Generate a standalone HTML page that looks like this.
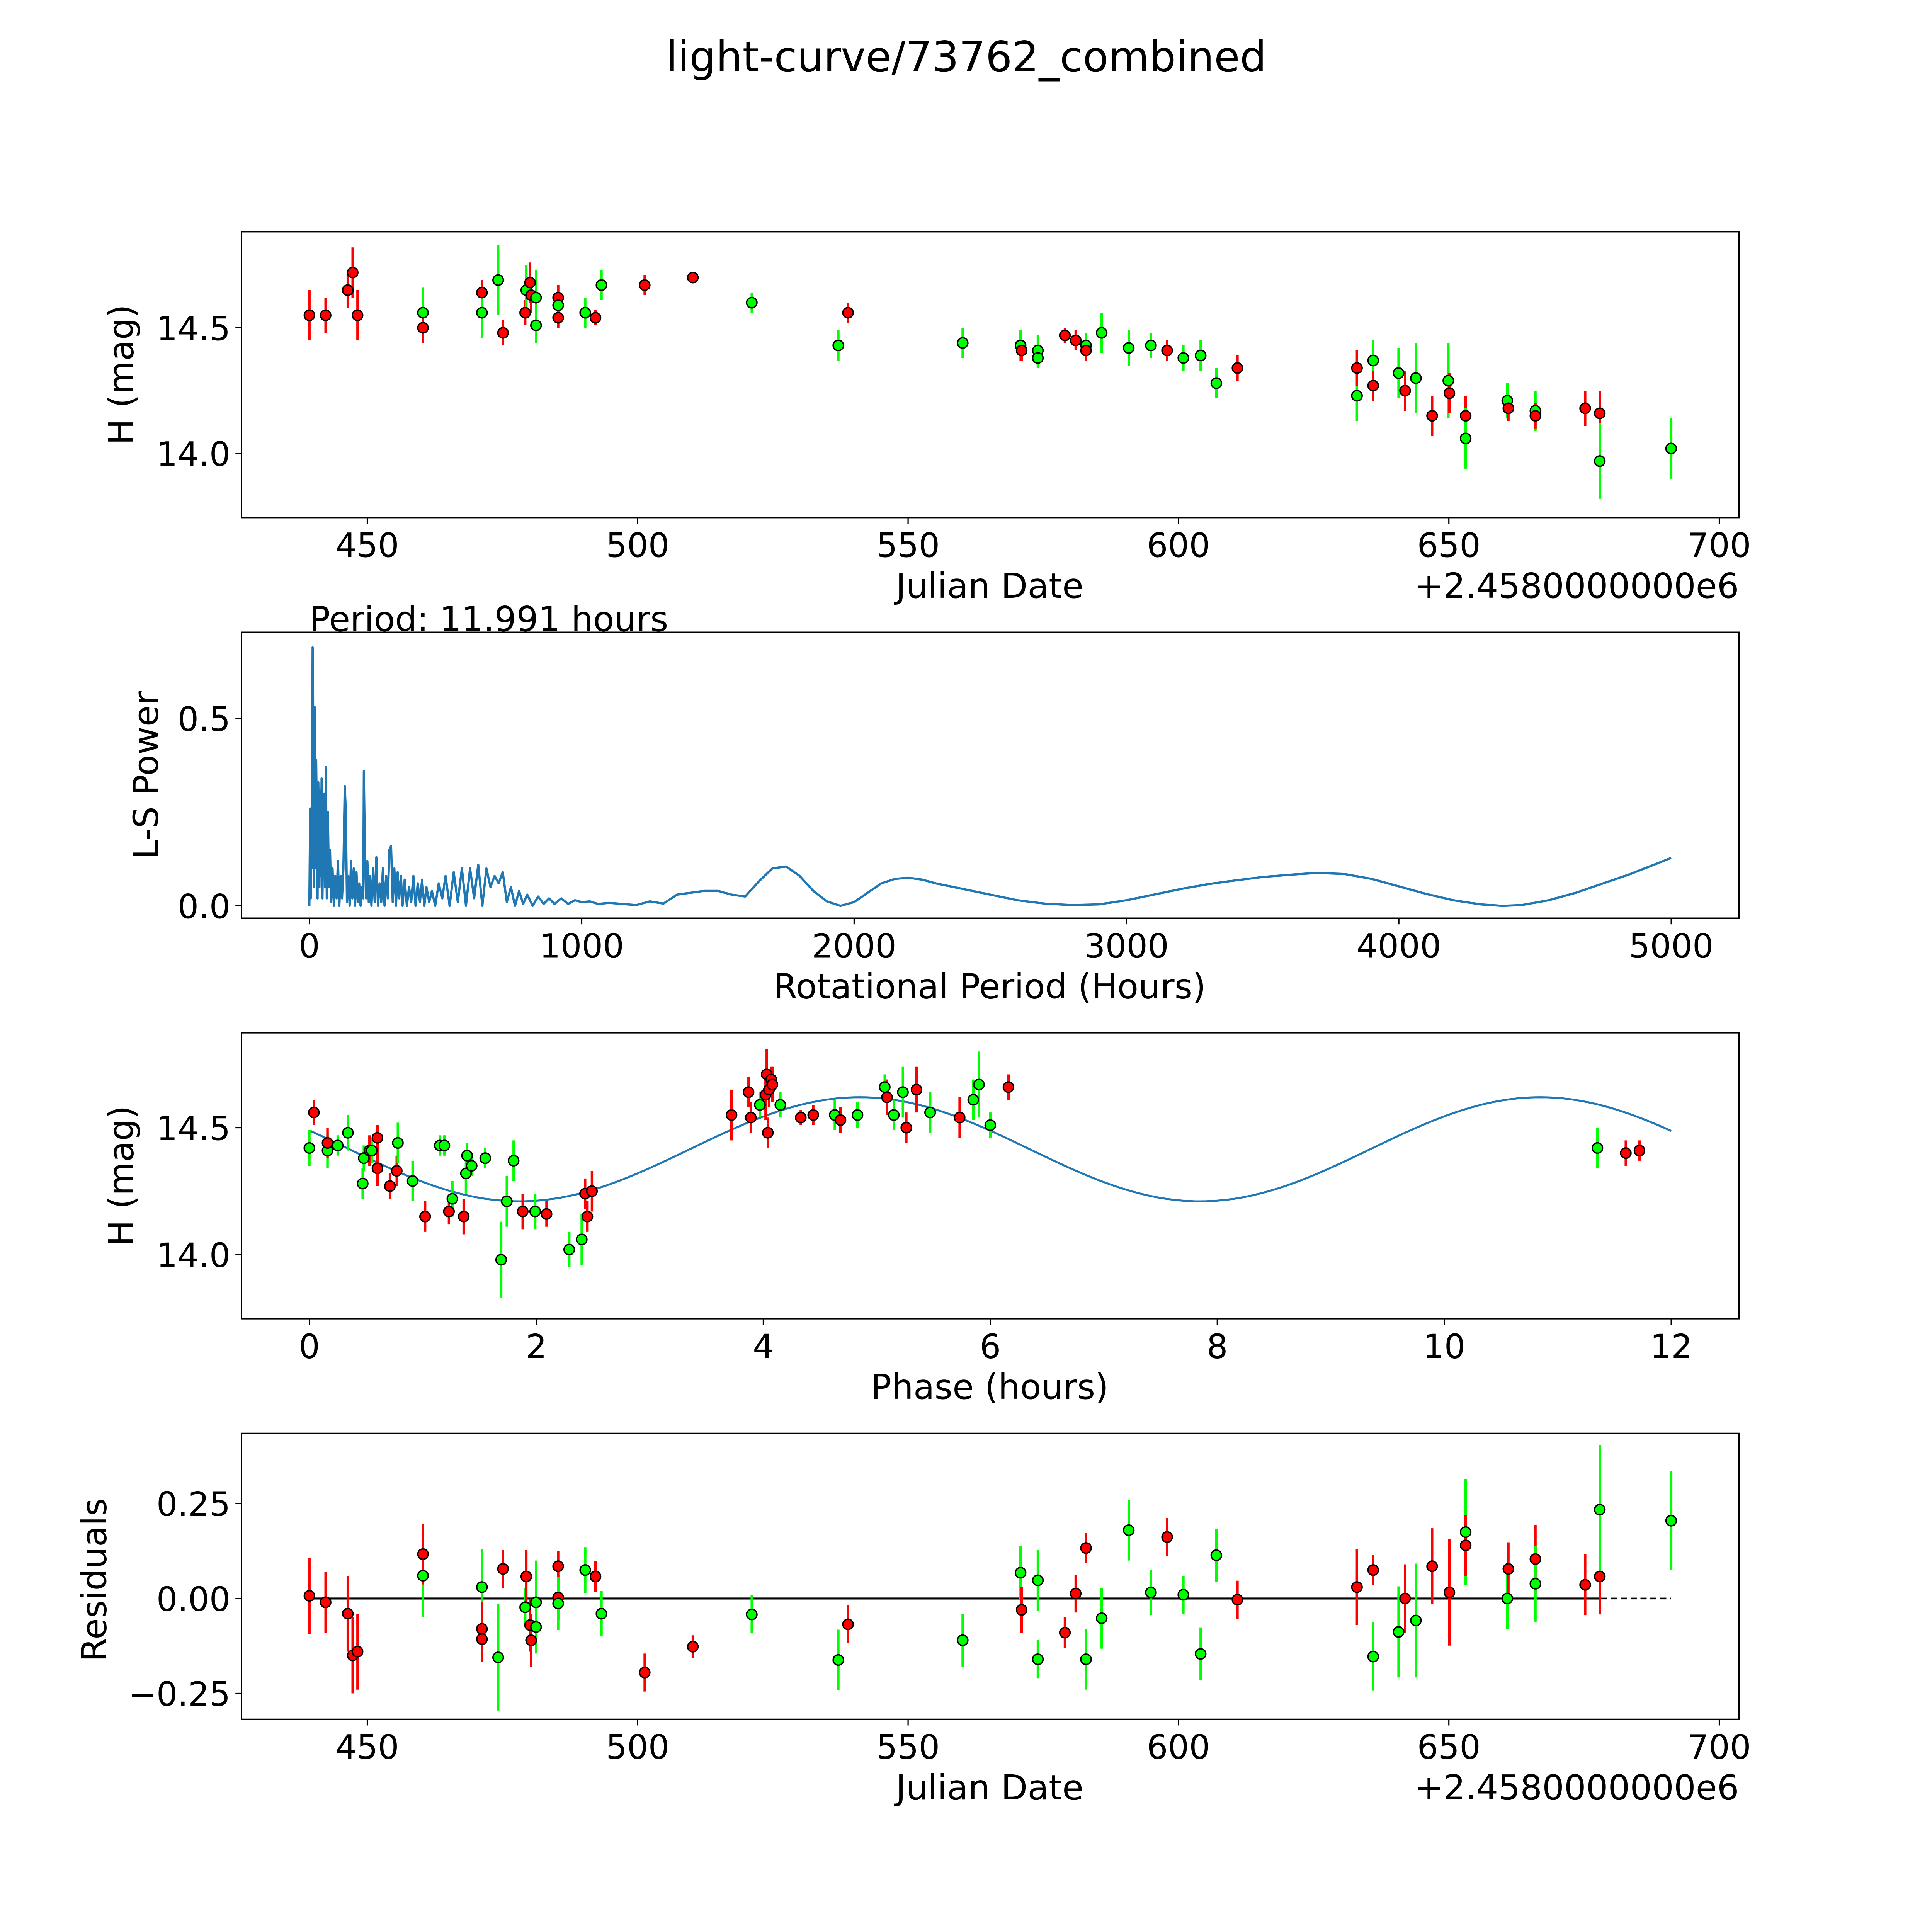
<!DOCTYPE html>
<html><head><meta charset="utf-8">
<style>
html,body{margin:0;padding:0;background:#fff;overflow:hidden;width:5400px;height:5400px;}
svg{display:block;}
text{font-family:"DejaVu Sans","Liberation Sans",sans-serif;fill:#000;}
</style></head>
<body>
<svg id="fig" xmlns="http://www.w3.org/2000/svg" width="5400" height="5400" viewBox="0 0 1693 1693" preserveAspectRatio="xMinYMin meet">
<rect width="1693" height="1693" fill="#fff"/>
<text x="784" y="58" font-size="34" text-anchor="middle">light-curve/73762_combined</text>
</svg>
<script>
// ---- Panel 1: light curve (date offset from 2458000, H mag, error, filter color)
const lcDates=[439.3,442.3,446.4,447.3,448.2,460.3,460.3,471.2,471.2,474.2,475.1,479.2,479.4,480.1,480.3,481.2,481.2,485.3,485.3,485.3,490.3,492.2,493.3,501.3,510.2,521.1,537.1,538.9,560.1,570.8,571.0,574.0,574.0,579.0,581.0,582.9,582.9,585.8,590.8,594.9,597.9,600.9,604.1,607.0,610.9,633.0,633.0,636.0,636.0,640.7,641.9,643.9,646.9,649.9,650.1,653.1,653.1,660.8,661.0,666.0,666.0,675.2,677.9,677.9,691.1];
const lcMags=[14.55,14.55,14.65,14.72,14.55,14.56,14.50,14.64,14.56,14.69,14.48,14.56,14.65,14.68,14.63,14.62,14.51,14.62,14.59,14.54,14.56,14.54,14.67,14.67,14.70,14.60,14.43,14.56,14.44,14.43,14.41,14.41,14.38,14.47,14.45,14.43,14.41,14.48,14.42,14.43,14.41,14.38,14.39,14.28,14.34,14.23,14.34,14.37,14.27,14.32,14.25,14.30,14.15,14.29,14.24,14.15,14.06,14.21,14.18,14.17,14.15,14.18,14.16,13.97,14.02];
const lcErrs=[0.1,0.07,0.07,0.1,0.1,0.1,0.06,0.05,0.1,0.14,0.05,0.05,0.1,0.08,0.07,0.11,0.07,0.05,0.04,0.04,0.06,0.03,0.06,0.04,0.02,0.04,0.06,0.04,0.06,0.06,0.04,0.06,0.04,0.03,0.04,0.05,0.04,0.08,0.07,0.05,0.04,0.05,0.06,0.06,0.05,0.1,0.07,0.08,0.06,0.1,0.08,0.14,0.08,0.15,0.08,0.08,0.12,0.07,0.05,0.08,0.05,0.07,0.09,0.15,0.12];
const lcColors=["r","r","r","r","r","g","r","r","g","g","r","r","g","r","r","g","g","r","g","r","g","r","g","r","r","g","g","r","g","g","r","g","g","r","r","g","r","g","g","g","r","g","g","g","r","g","r","g","r","g","r","g","r","g","r","r","g","g","r","g","r","r","r","g","g"];

// ---- Panel 2: periodogram
const lsPeriods=[
0,3,5,7,9,11,12,13,15,17,
20,22,25,28,30,33,37,40,42,45,
48,52,55,58,61,64,68,72,76,80,
85,90,95,100,105,110,115,120,125,130,
134,138,143,148,153,158,163,168,173,178,
183,188,193,198,200,203,208,213,218,223,
228,234,240,246,252,258,264,270,276,282,
288,294,300,306,312,318,324,330,336,342,
350,358,366,374,382,390,398,406,414,422,
430,440,450,462,475,488,500,515,530,545,
560,575,590,605,620,635,650,665,680,695,
710,725,740,755,770,785,800,820,840,860,
880,900,925,950,975,1000,1030,1060,1100,1150,
1200,1250,1300,1350,1400,1450,1500,1550,1600,1650,
1700,1750,1800,1850,1900,1950,2000,2050,2100,2150,
2200,2250,2300,2400,2500,2600,2700,2800,2900,3000,
3100,3200,3300,3400,3500,3600,3700,3800,3900,4000,
4100,4200,4300,4380,4450,4550,4650,4750,4850,5000];
const lsPower=[
0,0.26,0.02,0.25,0.1,0.45,0.69,0.68,0.3,0.05,
0.53,0.1,0.39,0.2,0.02,0.33,0.05,0.31,0.08,0.34,
0.02,0.25,0.3,0.05,0.37,0.02,0.25,0.05,0.15,0.01,
0.1,0.0,0.08,0.02,0.12,0.0,0.08,0.02,0.1,0.32,
0.25,0.01,0.08,0.0,0.12,0.02,0.1,0.0,0.09,0.01,
0.06,0.0,0.05,0.02,0.36,0.2,0.02,0.12,0.01,0.08,
0.0,0.1,0.01,0.13,0.0,0.06,0.01,0.1,0.0,0.08,
0.02,0.15,0.16,0.01,0.1,0.0,0.09,0.02,0.08,0.0,
0.07,0.0,0.05,0.01,0.08,0.0,0.06,0.01,0.07,0.0,
0.05,0.01,0.04,0.0,0.06,0.02,0.08,0.0,0.09,0.01,
0.1,0.0,0.1,0.02,0.11,0.0,0.1,0.05,0.08,0.06,
0.09,0.01,0.05,0.0,0.04,0.005,0.03,0.0,0.025,0.005,
0.02,0.005,0.02,0.005,0.015,0.01,0.012,0.005,0.008,0.005,
0.002,0.012,0.006,0.03,0.035,0.04,0.04,0.03,0.025,0.065,
0.1,0.105,0.08,0.04,0.012,0.0,0.01,0.035,0.06,0.072,
0.075,0.07,0.06,0.045,0.03,0.015,0.006,0.002,0.004,0.015,
0.03,0.045,0.058,0.068,0.077,0.083,0.088,0.085,0.072,0.052,
0.032,0.015,0.004,0.0,0.002,0.015,0.035,0.06,0.085,0.128];

// ---- Panel 3: phased light curve
const phHours=[0,0.04,0.16,0.16,0.25,0.34,0.48,0.47,0.53,0.55,0.6,0.6,0.71,0.77,0.78,0.91,1.02,1.15,1.19,1.26,1.23,1.36,1.38,1.39,1.43,1.55,1.69,1.74,1.8,1.88,1.99,2.09,2.29,2.4,2.43,2.45,2.49,3.72,3.87,3.89,3.97,4.02,4.03,4.04,4.05,4.07,4.08,4.15,4.33,4.44,4.63,4.68,4.83,5.07,5.09,5.15,5.23,5.26,5.35,5.47,5.73,5.85,5.9,6.0,6.16,11.35,11.6,11.72];
const phMags=[14.42,14.56,14.41,14.44,14.43,14.48,14.38,14.28,14.41,14.41,14.46,14.34,14.27,14.33,14.44,14.29,14.15,14.43,14.43,14.22,14.17,14.15,14.32,14.39,14.35,14.38,13.98,14.21,14.37,14.17,14.17,14.16,14.02,14.06,14.24,14.15,14.25,14.55,14.64,14.54,14.59,14.63,14.71,14.48,14.65,14.69,14.67,14.59,14.54,14.55,14.55,14.53,14.55,14.66,14.62,14.55,14.64,14.5,14.65,14.56,14.54,14.61,14.67,14.51,14.66,14.42,14.4,14.41];
const phErrs=[0.07,0.05,0.07,0.06,0.04,0.07,0.05,0.06,0.06,0.05,0.05,0.07,0.05,0.06,0.08,0.08,0.06,0.04,0.04,0.07,0.05,0.07,0.08,0.05,0.04,0.04,0.15,0.1,0.08,0.07,0.07,0.05,0.07,0.1,0.06,0.06,0.08,0.1,0.06,0.06,0.05,0.1,0.1,0.06,0.07,0.05,0.07,0.05,0.03,0.04,0.06,0.05,0.05,0.05,0.07,0.06,0.1,0.06,0.09,0.08,0.08,0.08,0.13,0.05,0.05,0.08,0.05,0.04];
const phColors=["g","r","g","r","g","g","g","g","r","g","r","r","r","r","g","g","r","g","g","g","r","r","g","g","g","g","g","g","g","r","g","r","g","g","r","r","r","r","r","r","g","r","r","r","r","r","r","g","r","r","g","r","g","g","r","g","g","r","r","g","r","g","g","g","r","g","r","r"];
const fitMean=[14.415], fitAmp=[0.205], fitPeak=[4.85], fitHalfPeriod=[5.9955];

// ---- Panel 4: residuals
const resDates=[439.3,442.3,446.4,447.3,448.2,460.3,460.3,471.2,471.2,471.2,474.2,475.1,479.2,479.4,480.1,480.3,481.2,481.2,485.3,485.3,485.3,490.3,492.2,493.3,501.3,510.2,521.1,537.1,538.9,560.1,570.8,571,574,574,579,581,582.9,582.9,585.8,590.8,594.9,597.9,600.9,604.1,607,610.9,633,636,636,640.7,641.9,643.9,646.9,650.1,653.1,653.1,660.8,661,666,666,675.2,677.9,677.9,691.1];
const resVals=[0.007,-0.01,-0.04,-0.15,-0.14,0.06,0.117,0.03,-0.08,-0.107,-0.155,0.078,-0.023,0.058,-0.07,-0.11,-0.075,-0.01,0.085,0.003,-0.013,0.075,0.058,-0.04,-0.195,-0.127,-0.042,-0.162,-0.068,-0.11,0.068,-0.03,0.048,-0.16,-0.09,0.013,0.133,-0.16,-0.052,0.18,0.016,0.162,0.01,-0.146,0.114,-0.003,0.03,-0.153,0.075,-0.088,0,-0.058,0.085,0.016,0.175,0.14,0,0.078,0.104,0.039,0.036,0.058,0.234,0.205];
const resErrs=[0.1,0.08,0.1,0.1,0.1,0.11,0.08,0.1,0.07,0.06,0.14,0.05,0.05,0.07,0.07,0.07,0.07,0.11,0.04,0.06,0.07,0.06,0.04,0.06,0.05,0.03,0.05,0.08,0.05,0.07,0.07,0.06,0.08,0.05,0.04,0.05,0.04,0.08,0.08,0.08,0.06,0.05,0.05,0.07,0.07,0.05,0.1,0.09,0.04,0.12,0.09,0.15,0.1,0.14,0.14,0.08,0.08,0.07,0.09,0.1,0.08,0.1,0.17,0.13];
const resColors=["r","r","r","r","r","g","r","g","r","r","g","r","g","r","r","r","g","g","r","r","g","g","r","g","r","r","g","g","r","g","g","r","g","g","r","r","r","g","g","g","g","r","g","g","g","r","r","g","r","g","r","g","r","r","g","r","g","r","r","g","r","r","g","g"];

const NS="http://www.w3.org/2000/svg";
const svg=document.getElementById('fig');
function mk(tag,attrs,parent){const e=document.createElementNS(NS,tag);for(const k in attrs)e.setAttribute(k,attrs[k]);(parent||svg).appendChild(e);return e;}
function lin(d0,d1,p0,p1){return v=>p0+(v-d0)*(p1-p0)/(d1-d0);}
const L=196,R=1411;
function frame(name){
  const g=mk('g',{});
  
  
  return g;
}
function box(g,y0,y1){const r=mk('rect',{x:L,y:y0,width:R-L,height:y1-y0,fill:'none',stroke:'#000','stroke-width':1.1},g);}
function xticks(g,sx,vals,labels,y1){vals.forEach((v,i)=>{const x=sx(v);mk('line',{x1:x,x2:x,y1:y1,y2:y1+5,stroke:'#000','stroke-width':1},g);const t=mk('text',{x:x,y:y1+32,'font-size':27,'text-anchor':'middle'},g);t.textContent=labels[i];});}
function yticks(g,sy,vals,labels){vals.forEach((v,i)=>{const y=sy(v);mk('line',{x1:L-5,x2:L,y1:y,y2:y,stroke:'#000','stroke-width':1},g);const t=mk('text',{x:L-9,y:y+10,'font-size':27,'text-anchor':'end'},g);t.textContent=labels[i];});}
function label(g,txt,x,y,rot,name){const t=mk('text',{x:x,y:y,'font-size':28,'text-anchor':'middle'},g);if(rot)t.setAttribute('transform',`rotate(-90 ${x} ${y})`);t.textContent=txt;return t;}
function points(g,xs,ys,es,cs,sx,sy,name){
  const col={r:'#ff0000',g:'#00ff00'};
  xs.forEach((d,i)=>{const x=sx(d);const c=col[cs[i]]||'#ff0000';
    mk('line',{x1:x,x2:x,y1:sy(ys[i]-es[i]),y2:sy(ys[i]+es[i]),stroke:c,'stroke-width':2},g);});
  xs.forEach((d,i)=>{const c=mk('circle',{cx:sx(d),cy:sy(ys[i]),r:4.2,fill:col[cs[i]]||'#ff0000',stroke:'#000','stroke-width':1.1},g);
    });
}
const jdTicks=[450,500,550,600,650,700], jdLabels=["450","500","550","600","650","700"];

// Panel 1
{const y0=188,y1=420;const g=frame('light-curve-panel');
 const sx=lin(450,700,298,1395), sy=lin(14,14.5,368,266);
 points(g,lcDates,lcMags,lcErrs,lcColors,sx,sy,'lc-point');
 box(g,y0,y1);xticks(g,sx,jdTicks,jdLabels,y1);yticks(g,sy,[14,14.5],["14.0","14.5"]);
 label(g,'Julian Date',803,485,false,'x-axis-title');
 const o=mk('text',{x:1411,y:485,'font-size':28,'text-anchor':'end'},g);o.textContent='+2.4580000000e6';
 label(g,'H (mag)',108,304,true,'y-axis-title');}
// Panel 2
{const y0=513,y1=745;const g=frame('periodogram-panel');
 const sx=lin(0,5000,251,1356), sy=lin(0,0.5,735,583);
 const n=Math.min(lsPeriods.length,lsPower.length);
 let d='';for(let i=0;i<n;i++){d+=(i?'L':'M')+sx(lsPeriods[i]).toFixed(2)+' '+sy(lsPower[i]).toFixed(2);}
 const pl=mk('path',{d:d,fill:'none',stroke:'#1f77b4','stroke-width':1.8,'stroke-linejoin':'round'},g);
 box(g,y0,y1);xticks(g,sx,[0,1000,2000,3000,4000,5000],["0","1000","2000","3000","4000","5000"],y1);
 yticks(g,sy,[0,0.5],["0.0","0.5"]);
 label(g,'Rotational Period (Hours)',803,810,false,'x-axis-title');label(g,'L-S Power',128,629,true,'y-axis-title');
 const t=mk('text',{x:251,y:512,'font-size':28},g);t.textContent='Period: 11.991 hours';}
// Panel 3
{const y0=838,y1=1070;const g=frame('phased-curve-panel');
 const sx=lin(0,12,251,1356), sy=lin(14,14.5,1018,915);
 let d='';for(let i=0;i<=240;i++){const p=12*i/240;const m=fitMean[0]+fitAmp[0]*Math.cos(Math.PI*(p-fitPeak[0])/(fitHalfPeriod[0]/2));d+=(i?'L':'M')+sx(p).toFixed(2)+' '+sy(m).toFixed(2);}
 const fl=mk('path',{d:d,fill:'none',stroke:'#1f77b4','stroke-width':1.6},g);
 points(g,phHours,phMags,phErrs,phColors,sx,sy,'phase-point');
 box(g,y0,y1);xticks(g,sx,[0,2,4,6,8,10,12],["0","2","4","6","8","10","12"],y1);yticks(g,sy,[14,14.5],["14.0","14.5"]);
 label(g,'Phase (hours)',803,1135,false,'x-axis-title');label(g,'H (mag)',108,954,true,'y-axis-title');}
// Panel 4
{const y0=1163,y1=1395;const g=frame('residuals-panel');
 const sx=lin(450,700,298,1395), sy=lin(0,0.25,1297,1220);
 mk('line',{x1:sx(439.3),x2:sx(691.1),y1:sy(0),y2:sy(0),stroke:'#000','stroke-width':1.4,'stroke-dasharray':'5 3'},g);
 const zl=mk('line',{x1:sx(439.3),x2:sx(677.9),y1:sy(0),y2:sy(0),stroke:'#000','stroke-width':1.6},g);
 points(g,resDates,resVals,resErrs,resColors,sx,sy,'residual-point');
 box(g,y0,y1);xticks(g,sx,jdTicks,jdLabels,y1);yticks(g,sy,[-0.25,0,0.25],["\u22120.25","0.00","0.25"]);
 label(g,'Julian Date',803,1460,false,'x-axis-title');
 const o=mk('text',{x:1411,y:1460,'font-size':28,'text-anchor':'end'},g);o.textContent='+2.4580000000e6';
 label(g,'Residuals',86,1282,true,'y-axis-title');}
</script>
</body></html>
